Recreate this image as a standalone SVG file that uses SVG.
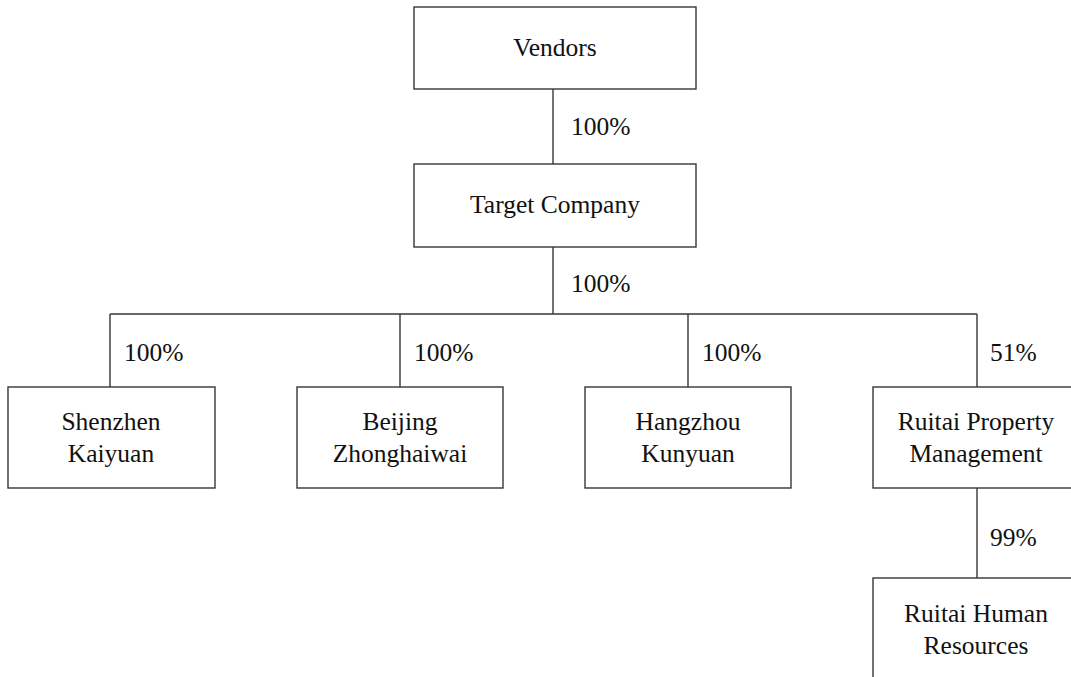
<svg xmlns="http://www.w3.org/2000/svg" width="1071" height="677" viewBox="0 0 1071 677">
<style>
.box{fill:#fff;stroke:#3a3535;stroke-width:1.4}
.ln{fill:none;stroke:#3a3535;stroke-width:1.4}
text{font-family:"Liberation Serif","Times New Roman",serif;font-size:25.5px;fill:#111}
.c{text-anchor:middle}
</style>
<rect width="1071" height="677" fill="#fff"/>
<g id="connectors">
<path class="ln" d="M553 89V164"/>
<path class="ln" d="M553 247V314"/>
<path class="ln" d="M110 314H977"/>
<path class="ln" d="M110 314V387M400 314V387M688 314V387M977 314V387"/>
<path class="ln" d="M977 488V578"/>
<text x="571" y="135">100%</text>
<text x="571" y="292">100%</text>
<text x="124" y="361">100%</text>
<text x="414" y="361">100%</text>
<text x="702" y="361">100%</text>
<text x="990" y="361">51%</text>
<text x="990" y="546">99%</text>
</g>
<g id="vendors"><rect class="box" x="414" y="7" width="282" height="82"/><text class="c" x="555" y="56">Vendors</text></g>
<g id="target"><rect class="box" x="414" y="164" width="282" height="83"/><text class="c" x="555" y="213">Target Company</text></g>
<g id="shenzhen"><rect class="box" x="8" y="387" width="207" height="101"/><text class="c" x="111" y="430">Shenzhen</text><text class="c" x="111" y="462">Kaiyuan</text></g>
<g id="beijing"><rect class="box" x="297" y="387" width="206" height="101"/><text class="c" x="400" y="430">Beijing</text><text class="c" x="400" y="462">Zhonghaiwai</text></g>
<g id="hangzhou"><rect class="box" x="585" y="387" width="206" height="101"/><text class="c" x="688" y="430">Hangzhou</text><text class="c" x="688" y="462">Kunyuan</text></g>
<g id="ruitai-property"><rect class="box" x="873" y="387" width="208" height="101"/><text class="c" x="976" y="430">Ruitai Property</text><text class="c" x="976" y="462">Management</text></g>
<g id="ruitai-hr"><rect class="box" x="873" y="578" width="208" height="110"/><text class="c" x="976" y="622">Ruitai Human</text><text class="c" x="976" y="654">Resources</text></g>
</svg>
